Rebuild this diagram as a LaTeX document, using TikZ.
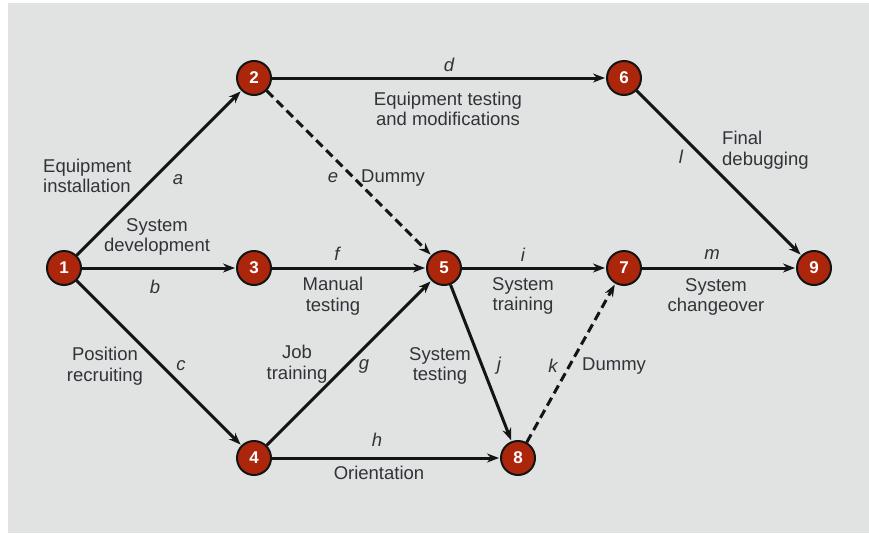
\documentclass[tikz,border=0pt]{standalone}
\usepackage{fontspec}
\setmainfont{Liberation Sans}
\usetikzlibrary{arrows.meta}
\definecolor{paper}{RGB}{224,227,226}
\definecolor{eventred}{RGB}{172,38,12}
\definecolor{ink}{RGB}{20,20,20}
\definecolor{labelgray}{RGB}{50,50,56}
\begin{document}
\begin{tikzpicture}[x=1pt,y=-1pt,
  event/.style={circle,draw=ink,line width=2pt,fill=eventred,minimum size=34pt,inner sep=0pt,
    text=white,font=\fontsize{17}{17}\selectfont\bfseries},
  activity/.style={draw=ink,line width=3pt,-{Stealth[length=12pt,width=9pt]},shorten >=1pt},
  dummy/.style={activity,dash pattern=on 9pt off 5pt},
  lbl/.style={text=labelgray,font=\fontsize{18.5}{20.5}\selectfont,align=center,inner sep=0pt},
  lblleft/.style={lbl,align=left,anchor=west},
  tag/.style={text=labelgray,font=\fontsize{18.5}{20.5}\selectfont\itshape,inner sep=0pt}]
\useasboundingbox (0,0) rectangle (869,533);
\fill[white] (0,0) rectangle (869,533);
\fill[paper] (8,3) rectangle (869,533);

% events
\node[event] (n1) at (64,268) {1};
\node[event] (n2) at (254,78) {2};
\node[event] (n3) at (254,268) {3};
\node[event] (n4) at (254,458) {4};
\node[event] (n5) at (444,268) {5};
\node[event] (n6) at (624,78) {6};
\node[event] (n7) at (624,268) {7};
\node[event] (n8) at (518,458) {8};
\node[event] (n9) at (814,268) {9};

% activities
\draw[activity] (n1) -- (n2);
\draw[activity] (n1) -- (n3);
\draw[activity] (n1) -- (n4);
\draw[activity] (n2) -- (n6);
\draw[dummy]    (n2) -- (n5);
\draw[activity] (n3) -- (n5);
\draw[activity] (n4) -- (n5);
\draw[activity] (n4) -- (n8);
\draw[activity] (n5) -- (n7);
\draw[activity] (n5) -- (n8);
\draw[dummy]    (n8) -- (n7);
\draw[activity] (n6) -- (n9);
\draw[activity] (n7) -- (n9);

% activity letters
\node[tag] (ta) at (178,180) {a};
\node[tag] (tb) at (155,287) {b};
\node[tag] (tc) at (181,366) {c};
\node[tag] (td) at (449,65) {d};
\node[tag] (te) at (333,178) {e};
\node[tag] (tf) at (337,254) {f};
\node[tag] (tg) at (364,366) {g};
\node[tag] (th) at (377,440) {h};
\node[tag] (ti) at (523,255) {i};
\node[tag] (tj) at (499,366) {j};
\node[tag] (tk) at (553,366) {k};
\node[tag] (tl) at (681,157) {l};
\node[tag] (tm) at (712,255) {m};

% activity descriptions
\node[lblleft] (la) at (43,176) {Equipment\\installation};
\node[lbl] (lb) at (157,237) {System\\development};
\node[lbl] (lc) at (105,366) {Position\\recruiting};
\node[lbl] (ld) at (448,109) {Equipment testing\\and modifications};
\node[lblleft] (le) at (361,178) {Dummy};
\node[lbl] (lf) at (333,296) {Manual\\testing};
\node[lbl] (lg) at (297,364) {Job\\training};
\node[lbl] (lh) at (379,473) {Orientation};
\node[lbl] (li) at (523,296) {System\\training};
\node[lbl] (lj) at (440,366) {System\\testing};
\node[lblleft] (lk) at (582,366) {Dummy};
\node[lblleft] (ll) at (722,150) {Final\\debugging};
\node[lbl] (lm) at (716,297) {System\\changeover};
\end{tikzpicture}
\end{document}
